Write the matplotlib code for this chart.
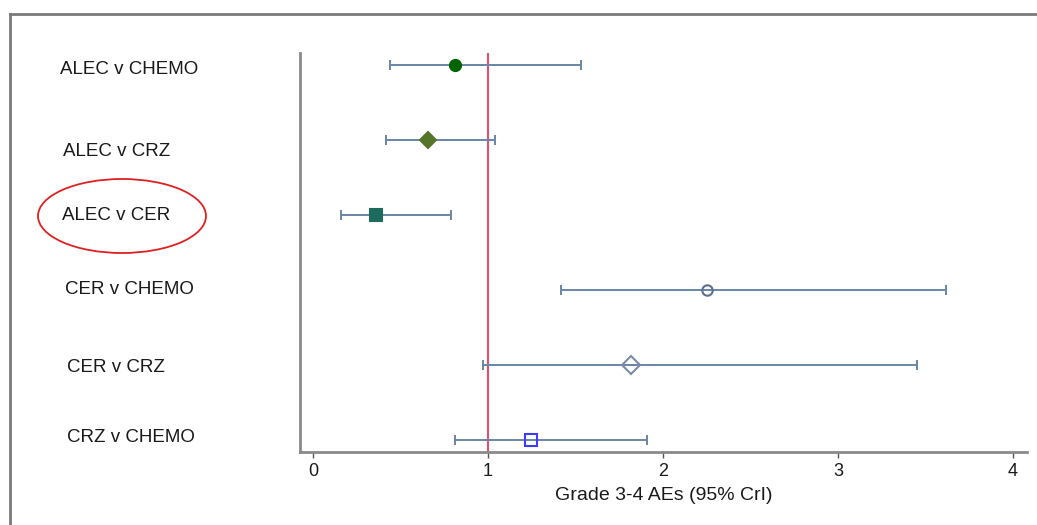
import numpy as np
import matplotlib.pyplot as plt
from matplotlib.patches import Ellipse
from matplotlib.lines import Line2D

plt.rcParams['font.family'] = ['Liberation Sans', 'DejaVu Sans']

# comparisons and estimates (odds ratios with 95% CrI)
comparisons = ['ALEC v CHEMO', 'ALEC v CRZ', 'ALEC v CER',
               'CER v CHEMO', 'CER v CRZ', 'CRZ v CHEMO']
estimate = [0.81, 0.655, 0.36, 2.25, 1.82, 1.245]
lower = [0.44, 0.42, 0.16, 1.42, 0.97, 0.81]
upper = [1.53, 1.04, 0.79, 3.62, 3.45, 1.91]
xticks = [0, 1, 2, 3, 4]

# marker styles per row
markers = ['o', 'D', 's', 'o', 'D', 's']
face = ['#006400', '#55752a', '#1d6b5c', 'none', 'none', 'none']
edge = ['#006400', '#55752a', '#1d6b5c', '#5c7190', '#7a8ca6', '#3c3cff']
msize = [8, 8.5, 8, 7.5, 9, 8]

W, H = 1037, 525
fig = plt.figure(figsize=(W / 100, H / 100), dpi=100)
ax = fig.add_axes([300 / W, 1 - 452 / H, (1027 - 300) / W, (452 - 53) / H])

ypos = np.arange(len(comparisons))
est = np.array(estimate)
lo = np.array(lower)
hi = np.array(upper)

# reference line at 1
ax.axvline(1, color='#e0506a', lw=1.5, zorder=1)

ax.errorbar(est, ypos, xerr=[est - lo, hi - est], fmt='none',
            ecolor='#6a86a6', elinewidth=1.4, capsize=3.5, capthick=1.4, zorder=2)
for i in range(len(comparisons)):
    ax.plot(est[i], ypos[i], marker=markers[i], ms=msize[i],
            mfc=face[i], mec=edge[i], mew=1.5, ls='none', zorder=3)

ax.set_xlim(-0.074, 4.08)
ax.set_ylim(5.16, -0.16)
ax.set_yticks([])
ax.set_xticks(xticks)
ax.set_xticklabels([str(t) for t in xticks], fontsize=13, color='#1a1a1a')
ax.tick_params(axis='x', length=4, width=1, color='#555555', pad=4)
ax.set_xlabel('Grade 3-4 AEs (95% CrI)', fontsize=14, color='#1a1a1a', labelpad=5)

for s in ['top', 'right']:
    ax.spines[s].set_visible(False)
for s in ['left', 'bottom']:
    ax.spines[s].set_color('#8a8a8a')
    ax.spines[s].set_linewidth(2)

# row labels on the left
label_px = [(60, 69), (63, 152), (62, 215), (65, 290), (67, 368), (67, 438)]
for name, (px, py) in zip(comparisons, label_px):
    fig.text(px / W, 1 - py / H, name, fontsize=13.5, color='#1a1a1a',
             ha='left', va='center')

# red circle round the highlighted row
fig.patches.append(Ellipse((122 / W, 1 - 216 / H), 168 / W, 74 / H,
                           transform=fig.transFigure, fill=False,
                           ec='#e02020', lw=1.3))

# outer frame (top and left edge)
fig.lines.append(Line2D([10 / W, 1], [1 - 14 / H, 1 - 14 / H],
                        transform=fig.transFigure, color='#7a7a7a', lw=2))
fig.lines.append(Line2D([10 / W, 10 / W], [0, 1 - 14 / H],
                        transform=fig.transFigure, color='#7a7a7a', lw=2))

fig.savefig('out.png', dpi=100)
